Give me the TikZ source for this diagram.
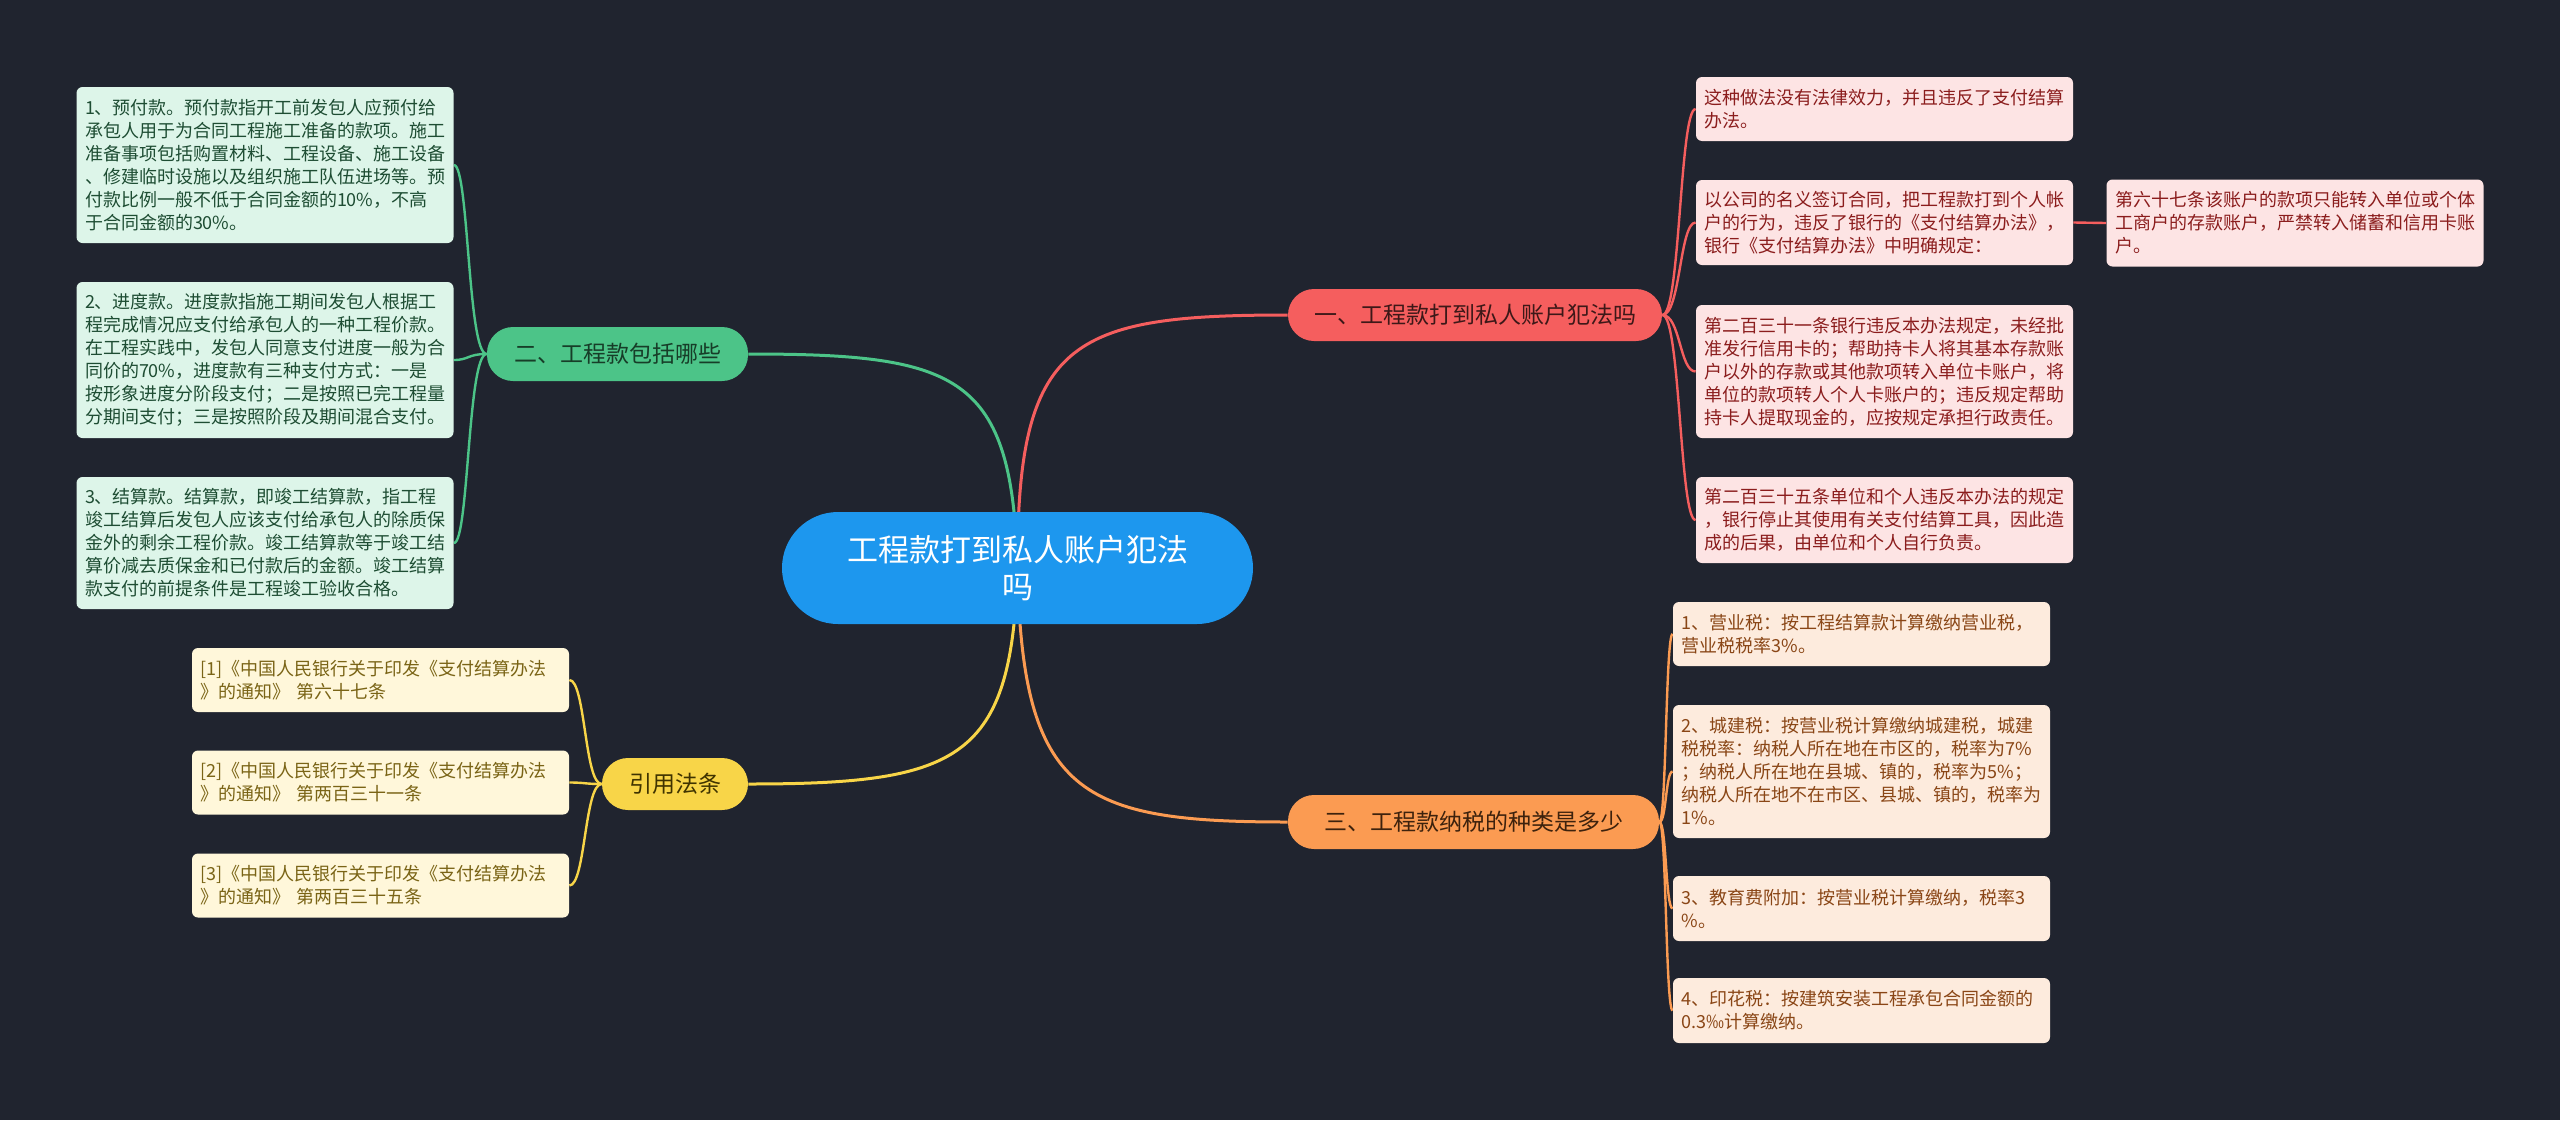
\documentclass[tikz,border=0pt]{standalone}
\usepackage{fontspec}
\setmainfont{Noto Sans CJK SC}
\pgfdeclarelayer{bgfill}
\pgfdeclarelayer{edges}
\pgfsetlayers{bgfill,edges,main}
\definecolor{bg}{HTML}{20242F}
\definecolor{cfill}{HTML}{1D97EE}
\definecolor{rline}{HTML}{F55E5E}
\definecolor{gline}{HTML}{4CC488}
\definecolor{yline}{HTML}{F8D548}
\definecolor{oline}{HTML}{FB9B52}
\definecolor{rbtext}{HTML}{3D1818}
\definecolor{gbtext}{HTML}{173D28}
\definecolor{ybtext}{HTML}{3F3300}
\definecolor{obtext}{HTML}{3D220D}
\definecolor{gfill}{HTML}{DDF5E9}
\definecolor{gtext}{HTML}{1E4D33}
\definecolor{yfill}{HTML}{FFF7DA}
\definecolor{ytext}{HTML}{7A6416}
\definecolor{rfill}{HTML}{FDE4E4}
\definecolor{rtext}{HTML}{8B1D1D}
\definecolor{ofill}{HTML}{FDEBDD}
\definecolor{otext}{HTML}{8A4616}
\tikzset{
  leaf/.style={rounded corners=3pt, text width=180pt, inner xsep=4.25pt, inner ysep=0pt,
    align=left, font=\fontsize{9pt}{11.5pt}\selectfont},
  gleaf/.style={leaf, fill=gfill, text=gtext},
  yleaf/.style={leaf, fill=yfill, text=ytext},
  rleaf/.style={leaf, fill=rfill, text=rtext},
  oleaf/.style={leaf, fill=ofill, text=otext},
  branch/.style={rounded corners=13pt, inner sep=0pt, align=center,
    font=\fontsize{11.5pt}{14pt}\selectfont},
  rootnode/.style={fill=cfill, text=white, rounded corners=28pt, inner sep=0pt,
    minimum width=235.5pt, minimum height=56pt, align=center,
    font=\fontsize{15.5pt}{18.5pt}\selectfont},
  mainconn/.style={line width=1.5pt},
  subconn/.style={line width=1.2pt},
}
\begin{document}
\begin{tikzpicture}[x=0.5pt,y=-0.5pt]
\begin{pgfonlayer}{bgfill}
\fill[bg] (0,0) rectangle (2560,1120);
\end{pgfonlayer}

% root
\node[rootnode] (root) at (1017.5,568) {工程款打到私人账户犯法\\吗};

% branches
\node[branch, fill=rline, text=rbtext, minimum width=187pt, minimum height=26pt] (b1) at (1475,315) {一、工程款打到私人账户犯法吗};
\node[branch, fill=gline, text=gbtext, minimum width=130.5pt, minimum height=27pt] (b2) at (617.5,354) {二、工程款包括哪些};
\node[branch, fill=oline, text=obtext, minimum width=185.5pt, minimum height=27pt] (b3) at (1473.5,822) {三、工程款纳税的种类是多少};
\node[branch, fill=yline, text=ybtext, minimum width=73pt, minimum height=26pt] (b4) at (675,784) {引用法条};

% green leaves
\node[gleaf, minimum height=78pt] (g1) at (265,165) {1、预付款。预付款指开工前发包人应预付给\\承包人用于为合同工程施工准备的款项。施工\\准备事项包括购置材料、工程设备、施工设备\\、修建临时设施以及组织施工队伍进场等。预\\付款比例一般不低于合同金额的10\%，不高\\于合同金额的30\%。};
\node[gleaf, minimum height=78pt] (g2) at (265,360) {2、进度款。进度款指施工期间发包人根据工\\程完成情况应支付给承包人的一种工程价款。\\在工程实践中，发包人同意支付进度一般为合\\同价的70\%，进度款有三种支付方式：一是\\按形象进度分阶段支付；二是按照已完工程量\\分期间支付；三是按照阶段及期间混合支付。};
\node[gleaf, minimum height=66pt] (g3) at (265,543) {3、结算款。结算款，即竣工结算款，指工程\\竣工结算后发包人应该支付给承包人的除质保\\金外的剩余工程价款。竣工结算款等于竣工结\\算价减去质保金和已付款后的金额。竣工结算\\款支付的前提条件是工程竣工验收合格。};

% yellow leaves
\node[yleaf, minimum height=32pt] (y1) at (380.5,680) {[1]《中国人民银行关于印发《支付结算办法\\》的通知》 第六十七条};
\node[yleaf, minimum height=32pt] (y2) at (380.5,782.5) {[2]《中国人民银行关于印发《支付结算办法\\》的通知》 第两百三十一条};
\node[yleaf, minimum height=32pt] (y3) at (380.5,885.5) {[3]《中国人民银行关于印发《支付结算办法\\》的通知》 第两百三十五条};

% red leaves
\node[rleaf, minimum height=32pt] (r1) at (1884.5,109) {这种做法没有法律效力，并且违反了支付结算\\办法。};
\node[rleaf, minimum height=42.5pt] (r2) at (1884.5,222.5) {以公司的名义签订合同，把工程款打到个人帐\\户的行为，违反了银行的《支付结算办法》，\\银行《支付结算办法》中明确规定：};
\node[rleaf, minimum height=43.5pt] (r2a) at (2295,223) {第六十七条该账户的款项只能转入单位或个体\\工商户的存款账户，严禁转入储蓄和信用卡账\\户。};
\node[rleaf, minimum height=66.5pt] (r3) at (1884.5,371.5) {第二百三十一条银行违反本办法规定，未经批\\准发行信用卡的；帮助持卡人将其基本存款账\\户以外的存款或其他款项转入单位卡账户，将\\单位的款项转人个人卡账户的；违反规定帮助\\持卡人提取现金的，应按规定承担行政责任。};
\node[rleaf, minimum height=43pt] (r4) at (1884.5,520) {第二百三十五条单位和个人违反本办法的规定\\，银行停止其使用有关支付结算工具，因此造\\成的后果，由单位和个人自行负责。};

% orange leaves
\node[oleaf, minimum height=32pt] (o1) at (1861.5,634) {1、营业税：按工程结算款计算缴纳营业税，\\营业税税率3\%。};
\node[oleaf, minimum height=66.5pt] (o2) at (1861.5,771.5) {2、城建税：按营业税计算缴纳城建税，城建\\税税率：纳税人所在地在市区的，税率为7\%\\；纳税人所在地在县城、镇的，税率为5\%；\\纳税人所在地不在市区、县城、镇的，税率为\\1\%。};
\node[oleaf, minimum height=32.5pt] (o3) at (1861.5,908.5) {3、教育费附加：按营业税计算缴纳，税率3\\\%。};
\node[oleaf, minimum height=32.5pt] (o4) at (1861.5,1010.5) {4、印花税：按建筑安装工程承包合同金额的\\0.3‰计算缴纳。};

\begin{pgfonlayer}{edges}
% root to branches
\draw[mainconn, rline] (root.center) .. controls (1017,340) and (1070,315) .. (b1.west);
\draw[mainconn, gline] (root.center) .. controls (1012,375) and (960,354) .. (b2.east);
\draw[mainconn, oline] (root.center) .. controls (1022,795) and (1080,822) .. (b3.west);
\draw[mainconn, yline] (root.center) .. controls (1012,760) and (960,784) .. (b4.east);
% branch 1
\foreach \t in {r1,r2,r3,r4}
  \draw[subconn, rline] (b1.east) .. controls +(18,0) and +(-16,0) .. (\t.west);
\draw[subconn, rline] (r2.east) -- (r2a.west);
% branch 2
\foreach \t in {g1,g2,g3}
  \draw[subconn, gline] (b2.west) .. controls +(-19,0) and +(15,0) .. (\t.east);
% branch 3
\foreach \t in {o1,o2,o3,o4}
  \draw[subconn, oline] (b3.east) .. controls +(7,0) and +(-7,0) .. (\t.west);
% branch 4
\foreach \t in {y1,y2,y3}
  \draw[subconn, yline] (b4.west) .. controls +(-17,0) and +(16,0) .. (\t.east);
\end{pgfonlayer}
\end{tikzpicture}
\end{document}
